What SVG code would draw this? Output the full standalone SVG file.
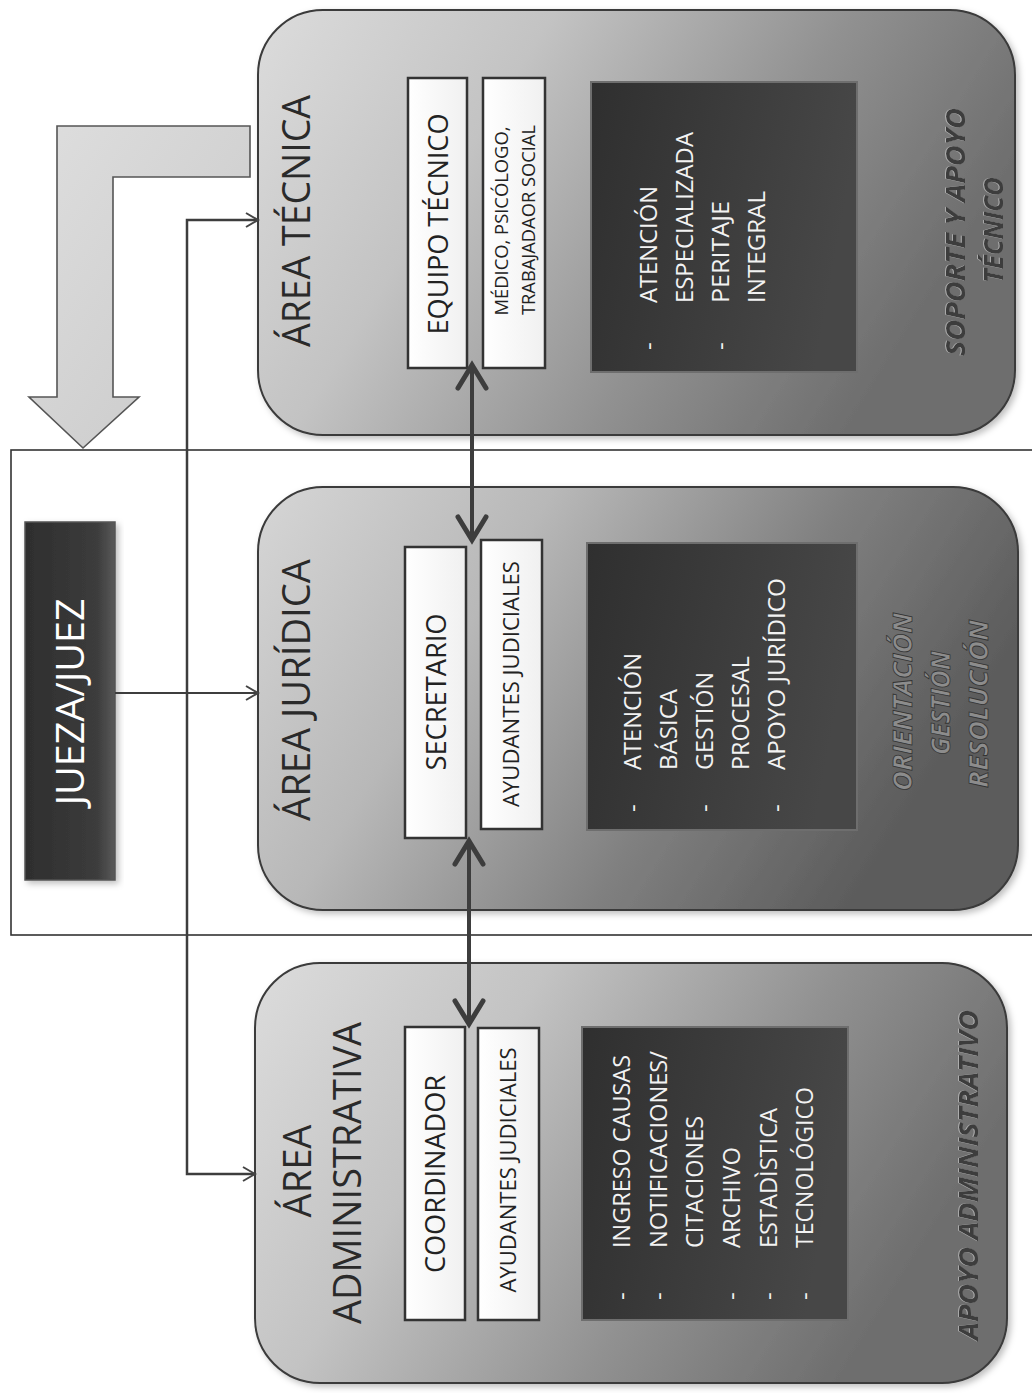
<svg xmlns="http://www.w3.org/2000/svg" width="1032" height="1393" viewBox="0 0 1032 1393">
<defs>
<linearGradient id="areaG" x1="0" y1="0" x2="1" y2="0.35">
<stop offset="0" stop-color="#dcdcdc"/>
<stop offset="0.35" stop-color="#c3c3c3"/>
<stop offset="0.7" stop-color="#919191"/>
<stop offset="1" stop-color="#6e6e6e"/>
</linearGradient>
<linearGradient id="areaJ" x1="0" y1="0" x2="1" y2="0.35">
<stop offset="0" stop-color="#d6d6d6"/>
<stop offset="0.35" stop-color="#b8b8b8"/>
<stop offset="0.7" stop-color="#808080"/>
<stop offset="1" stop-color="#5c5c5c"/>
</linearGradient>
<linearGradient id="darkG" x1="0" y1="0" x2="1" y2="0.2">
<stop offset="0" stop-color="#2f2f2f"/>
<stop offset="1" stop-color="#474747"/>
</linearGradient>
<linearGradient id="whiteG" x1="0" y1="0" x2="1" y2="0">
<stop offset="0" stop-color="#ffffff"/>
<stop offset="1" stop-color="#f0f0f0"/>
</linearGradient>
<linearGradient id="bigArrowG" x1="0" y1="0" x2="1" y2="1">
<stop offset="0" stop-color="#dedede"/>
<stop offset="1" stop-color="#c8c8c8"/>
</linearGradient>
<linearGradient id="judgeG" x1="0" y1="0" x2="1" y2="0">
<stop offset="0" stop-color="#2e2e2e"/>
<stop offset="0.8" stop-color="#3c3c3c"/>
<stop offset="1" stop-color="#5a5a5a"/>
</linearGradient>
<filter id="shadow" x="-5%" y="-5%" width="115%" height="115%">
<feDropShadow dx="3" dy="3" stdDeviation="3" flood-color="#000" flood-opacity="0.25"/>
</filter>
<filter id="emb" x="-5%" y="-20%" width="110%" height="140%">
<feDropShadow dx="0" dy="-1" stdDeviation="0.2" flood-color="#d0d0d0" flood-opacity="0.6"/>
</filter>
<marker id="chev" viewBox="-32 -20 40 40" refX="0" refY="0" markerWidth="40" markerHeight="40" markerUnits="userSpaceOnUse" orient="auto-start-reverse">
<path d="M-23,-14 L0,0 L-23,14" fill="none" stroke="#3d3d3d" stroke-width="5" stroke-linecap="round"/>
</marker>
<marker id="thin" viewBox="-16 -10 20 20" refX="0" refY="0" markerWidth="20" markerHeight="20" markerUnits="userSpaceOnUse" orient="auto-start-reverse">
<path d="M-12,-7 L0,0 L-12,7" fill="none" stroke="#444" stroke-width="2"/>
</marker>
<style>
text { font-family: "Open Sans", "Liberation Sans", sans-serif; }
.area { stroke: #3a3a3a; stroke-width: 2; filter: url(#shadow); }
.dark { fill: url(#darkG); stroke: #6e6e6e; stroke-width: 2; }
.white { fill: url(#whiteG); stroke: #333; stroke-width: 2.5; }
.title { font-size: 38px; fill: #2a2a2a; text-anchor: middle; }
.lbl { font-size: 28px; fill: #222; text-anchor: middle; }
.sub { font-size: 18px; fill: #222; text-anchor: middle; }
.sub2 { font-size: 22px; fill: #222; text-anchor: middle; }
.list { font-size: 24px; fill: #f2f2f2; text-anchor: start; }
.ital { font-size: 26px; font-style: italic; font-weight: bold; text-anchor: middle; filter: url(#emb); }
.italj { font-size: 26px; font-style: italic; font-weight: bold; text-anchor: middle; fill: #8c8c8c; stroke: #333; stroke-width: 0.8; }
.conn { fill: none; stroke: #3d3d3d; }
</style>
</defs>
<rect width="1032" height="1393" fill="#ffffff"/>

<g id="frame">
<rect x="11" y="450" width="1040" height="485" fill="none" stroke="#333" stroke-width="1.6"/>
</g>

<g id="flow-arrow">
<path d="M57,126 H250 V177 H113 V397 H139 L83,448 L29,397 H57 Z" fill="url(#bigArrowG)" stroke="#555" stroke-width="1.6"/>
</g>

<g id="jueza">
<rect x="25" y="522" width="90" height="358" fill="url(#judgeG)" stroke="#555" stroke-width="1.5" filter="url(#shadow)"/>
<text transform="rotate(-90)" x="-702" y="84" style="font-size:38px;fill:#ffffff;text-anchor:middle" textLength="207" lengthAdjust="spacingAndGlyphs">JUEZA/JUEZ</text>
</g>

<g id="area-tecnica">
<rect class="area" fill="url(#areaG)" x="258" y="10" width="757" height="425" rx="65"/>
<text class="title" transform="rotate(-90)" x="-221" y="310" textLength="252" lengthAdjust="spacingAndGlyphs">ÁREA TÉCNICA</text>
<rect class="white" x="408" y="78" width="59" height="290"/>
<text class="lbl" transform="rotate(-90)" x="-224" y="448" textLength="221" lengthAdjust="spacingAndGlyphs">EQUIPO TÉCNICO</text>
<rect class="white" x="483" y="78" width="62" height="290"/>
<text class="sub" transform="rotate(-90)" x="-221" y="508" textLength="189" lengthAdjust="spacingAndGlyphs">MÉDICO, PSICÓLOGO,</text>
<text class="sub" transform="rotate(-90)" x="-220" y="535" textLength="190" lengthAdjust="spacingAndGlyphs">TRABAJADAOR SOCIAL</text>
<rect class="dark" x="591" y="82" width="266" height="290"/>
<text class="list" transform="rotate(-90)" x="-350" y="657">-</text>
<text class="list" transform="rotate(-90)" x="-350" y="729">-</text>
<text class="list" transform="rotate(-90)" x="-303" y="657" textLength="117" lengthAdjust="spacingAndGlyphs">ATENCIÓN</text>
<text class="list" transform="rotate(-90)" x="-303" y="693" textLength="171" lengthAdjust="spacingAndGlyphs">ESPECIALIZADA</text>
<text class="list" transform="rotate(-90)" x="-303" y="729" textLength="102" lengthAdjust="spacingAndGlyphs">PERITAJE</text>
<text class="list" transform="rotate(-90)" x="-303" y="765" textLength="112" lengthAdjust="spacingAndGlyphs">INTEGRAL</text>
<text class="ital" transform="rotate(-90)" x="-232" y="965" fill="#3c3c3c" textLength="248" lengthAdjust="spacingAndGlyphs">SOPORTE Y APOYO</text>
<text class="ital" transform="rotate(-90)" x="-230" y="1003" fill="#3c3c3c" textLength="106" lengthAdjust="spacingAndGlyphs">TÉCNICO</text>
</g>

<g id="area-juridica">
<rect class="area" fill="url(#areaJ)" x="258" y="487" width="760" height="423" rx="65"/>
<text class="title" transform="rotate(-90)" x="-690" y="310" textLength="262" lengthAdjust="spacingAndGlyphs">ÁREA JURÍDICA</text>
<rect class="white" x="405" y="547" width="61" height="291"/>
<text class="lbl" transform="rotate(-90)" x="-692" y="446" textLength="157" lengthAdjust="spacingAndGlyphs">SECRETARIO</text>
<rect class="white" x="481" y="540" width="61" height="289"/>
<text class="sub2" transform="rotate(-90)" x="-684" y="519" textLength="246" lengthAdjust="spacingAndGlyphs">AYUDANTES JUDICIALES</text>
<rect class="dark" x="587" y="543" width="270" height="287"/>
<text class="list" transform="rotate(-90)" x="-812" y="641">-</text>
<text class="list" transform="rotate(-90)" x="-812" y="713">-</text>
<text class="list" transform="rotate(-90)" x="-812" y="785">-</text>
<text class="list" transform="rotate(-90)" x="-770" y="641" textLength="117" lengthAdjust="spacingAndGlyphs">ATENCIÓN</text>
<text class="list" transform="rotate(-90)" x="-770" y="677" textLength="81" lengthAdjust="spacingAndGlyphs">BÁSICA</text>
<text class="list" transform="rotate(-90)" x="-770" y="713" textLength="98" lengthAdjust="spacingAndGlyphs">GESTIÓN</text>
<text class="list" transform="rotate(-90)" x="-770" y="749" textLength="114" lengthAdjust="spacingAndGlyphs">PROCESAL</text>
<text class="list" transform="rotate(-90)" x="-770" y="785" textLength="192" lengthAdjust="spacingAndGlyphs">APOYO JURÍDICO</text>
<text class="italj" transform="rotate(-90)" x="-702" y="912" textLength="178" lengthAdjust="spacingAndGlyphs">ORIENTACIÓN</text>
<text class="italj" transform="rotate(-90)" x="-703" y="950" textLength="104" lengthAdjust="spacingAndGlyphs">GESTIÓN</text>
<text class="italj" transform="rotate(-90)" x="-704" y="988" textLength="168" lengthAdjust="spacingAndGlyphs">RESOLUCIÓN</text>
</g>

<g id="area-administrativa">
<rect class="area" fill="url(#areaG)" x="255" y="963" width="752" height="420" rx="65"/>
<text class="title" transform="rotate(-90)" x="-1171" y="311" textLength="93" lengthAdjust="spacingAndGlyphs">ÁREA</text>
<text class="title" transform="rotate(-90)" x="-1173" y="361" textLength="302" lengthAdjust="spacingAndGlyphs">ADMINISTRATIVA</text>
<rect class="white" x="405" y="1027" width="60" height="293"/>
<text class="lbl" transform="rotate(-90)" x="-1174" y="445" textLength="198" lengthAdjust="spacingAndGlyphs">COORDINADOR</text>
<rect class="white" x="478" y="1028" width="61" height="292"/>
<text class="sub2" transform="rotate(-90)" x="-1170" y="516" textLength="245" lengthAdjust="spacingAndGlyphs">AYUDANTES JUDICIALES</text>
<rect class="dark" x="582" y="1027" width="266" height="293"/>
<text class="list" transform="rotate(-90)" x="-1300" y="630">-</text>
<text class="list" transform="rotate(-90)" x="-1300" y="667">-</text>
<text class="list" transform="rotate(-90)" x="-1300" y="740">-</text>
<text class="list" transform="rotate(-90)" x="-1300" y="777">-</text>
<text class="list" transform="rotate(-90)" x="-1300" y="813">-</text>
<text class="list" transform="rotate(-90)" x="-1248" y="630" textLength="193" lengthAdjust="spacingAndGlyphs">INGRESO CAUSAS</text>
<text class="list" transform="rotate(-90)" x="-1248" y="667" textLength="197" lengthAdjust="spacingAndGlyphs">NOTIFICACIONES/</text>
<text class="list" transform="rotate(-90)" x="-1248" y="703" textLength="132" lengthAdjust="spacingAndGlyphs">CITACIONES</text>
<text class="list" transform="rotate(-90)" x="-1248" y="740" textLength="101" lengthAdjust="spacingAndGlyphs">ARCHIVO</text>
<text class="list" transform="rotate(-90)" x="-1248" y="777" textLength="140" lengthAdjust="spacingAndGlyphs">ESTADÌSTICA</text>
<text class="list" transform="rotate(-90)" x="-1248" y="813" textLength="161" lengthAdjust="spacingAndGlyphs">TECNOLÓGICO</text>
<text class="ital" transform="rotate(-90)" x="-1175" y="978" fill="#3e3e3e" textLength="330" lengthAdjust="spacingAndGlyphs">APOYO ADMINISTRATIVO</text>
</g>

<g id="connectors">
<path class="conn" d="M258,220 H187 V1174 H255" stroke-width="2.5" marker-start="url(#thin)" marker-end="url(#thin)"/>
<path class="conn" d="M115,693 H258" stroke-width="2" marker-end="url(#thin)"/>
<path class="conn" d="M472,365 V540" stroke-width="4" marker-start="url(#chev)" marker-end="url(#chev)"/>
<path class="conn" d="M469,841 V1024" stroke-width="4" marker-start="url(#chev)" marker-end="url(#chev)"/>
</g>
</svg>
